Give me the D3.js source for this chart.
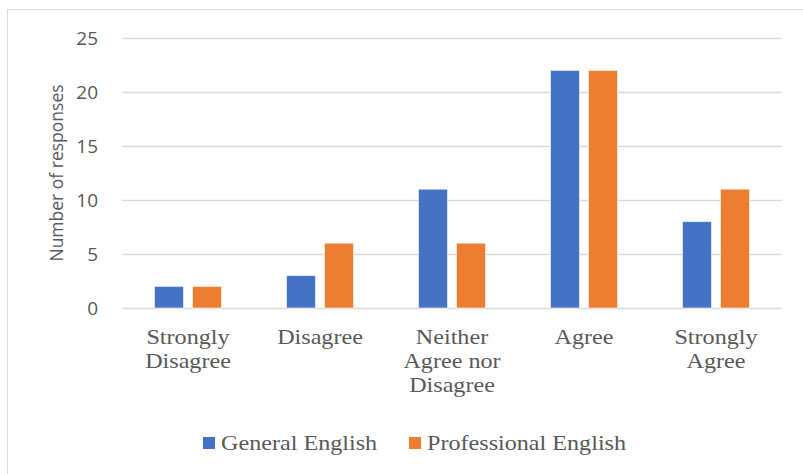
<!DOCTYPE html>
<html>
<head>
<meta charset="utf-8">
<script src="https://cdn.jsdelivr.net/npm/d3@7"></script>
<style>
  html, body { margin: 0; padding: 0; background: #fff; }
  svg { display: block; }
</style>
</head>
<body>
<svg id="chart" width="803" height="474"></svg>
<script>
// Survey responses by category
const categories = [
  ["Strongly", "Disagree"],
  ["Disagree"],
  ["Neither", "Agree nor", "Disagree"],
  ["Agree"],
  ["Strongly", "Agree"]
];
const seriesNames = ["General English", "Professional English"];
const generalEnglish = [2, 3, 11, 22, 8];
const professionalEnglish = [2, 6, 6, 22, 11];
const yTicks = [0, 5, 10, 15, 20, 25];

const colors = ["#4472C4", "#ED7D31"];
const series = [generalEnglish, professionalEnglish];

const svg = d3.select("#chart");
const W = 803, H = 474;
const plot = { left: 122, right: 782, top: 38, bottom: 308 };
const serif = "'Liberation Serif', 'Times New Roman', serif";
const sans = "'Open Sans', 'Liberation Sans', sans-serif";
const textStretch = 1.15;

// outer chart frame
svg.append("rect")
  .attr("x", 7.5).attr("y", 9.5)
  .attr("width", W + 10).attr("height", H)
  .attr("fill", "#fff").attr("stroke", "#d9d9d9").attr("stroke-width", 1);

const x = d3.scaleBand()
  .domain(d3.range(categories.length))
  .range([plot.left, plot.right])
  .paddingInner(0).paddingOuter(0);

const y = d3.scaleLinear().domain([0, 25]).range([plot.bottom, plot.top]);

const barW = x.bandwidth() * 0.22;
const barGap = x.bandwidth() * 0.068;
const xs = d3.scaleBand().domain([0, 1])
  .range([-(barW + barGap / 2), barW + barGap / 2])
  .paddingInner(barGap / (barW + barGap)).paddingOuter(0);

// gridlines and value ticks
const yAxis = d3.axisLeft(y).tickValues(yTicks).tickSize(-(plot.right - plot.left)).tickPadding(24);
const gy = svg.append("g").attr("transform", `translate(${plot.left},0)`).call(yAxis);
gy.select(".domain").remove();
gy.selectAll(".tick line").attr("stroke", "#d9d9d9").attr("stroke-width", 1.5);
gy.selectAll(".tick text")
  .attr("fill", "#595959")
  .style("font-family", sans)
  .style("font-size", "19px");

// bars
series.forEach((vals, si) => {
  svg.append("g").selectAll("rect")
    .data(vals)
    .join("rect")
    .attr("x", (d, i) => x(i) + x.bandwidth() / 2 + xs(si))
    .attr("y", d => y(d))
    .attr("width", xs.bandwidth())
    .attr("height", d => y(0) - y(d))
    .attr("fill", colors[si])
    .attr("stroke", "#fff")
    .attr("stroke-opacity", 0.6)
    .attr("stroke-width", 1);
});

// category labels
categories.forEach((lines, i) => {
  const t = svg.append("text")
    .attr("transform", `translate(${x(i) + x.bandwidth() / 2},344) scale(${textStretch},1)`)
    .attr("text-anchor", "middle")
    .attr("fill", "#595959")
    .style("font-family", serif)
    .style("font-size", "21px");
  lines.forEach((ln, j) => {
    t.append("tspan")
      .attr("x", 0)
      .attr("dy", j === 0 ? 0 : 24)
      .text(ln);
  });
});

// y-axis title
svg.append("text")
  .attr("transform", `translate(63,${(plot.top + plot.bottom) / 2}) rotate(-90)`)
  .attr("text-anchor", "middle")
  .attr("fill", "#595959")
  .style("font-family", sans)
  .style("font-size", "17.5px")
  .text("Number of responses");

// legend
const legendItems = [
  { name: seriesNames[0], color: colors[0], x: 203 },
  { name: seriesNames[1], color: colors[1], x: 409 }
];
legendItems.forEach(it => {
  svg.append("rect")
    .attr("x", it.x).attr("y", 437)
    .attr("width", 12).attr("height", 12)
    .attr("fill", it.color);
  svg.append("text")
    .attr("transform", `translate(${it.x + 18},450) scale(${textStretch},1)`)
    .attr("fill", "#595959")
    .style("font-family", serif)
    .style("font-size", "21px")
    .text(it.name);
});
</script>
</body>
</html>
